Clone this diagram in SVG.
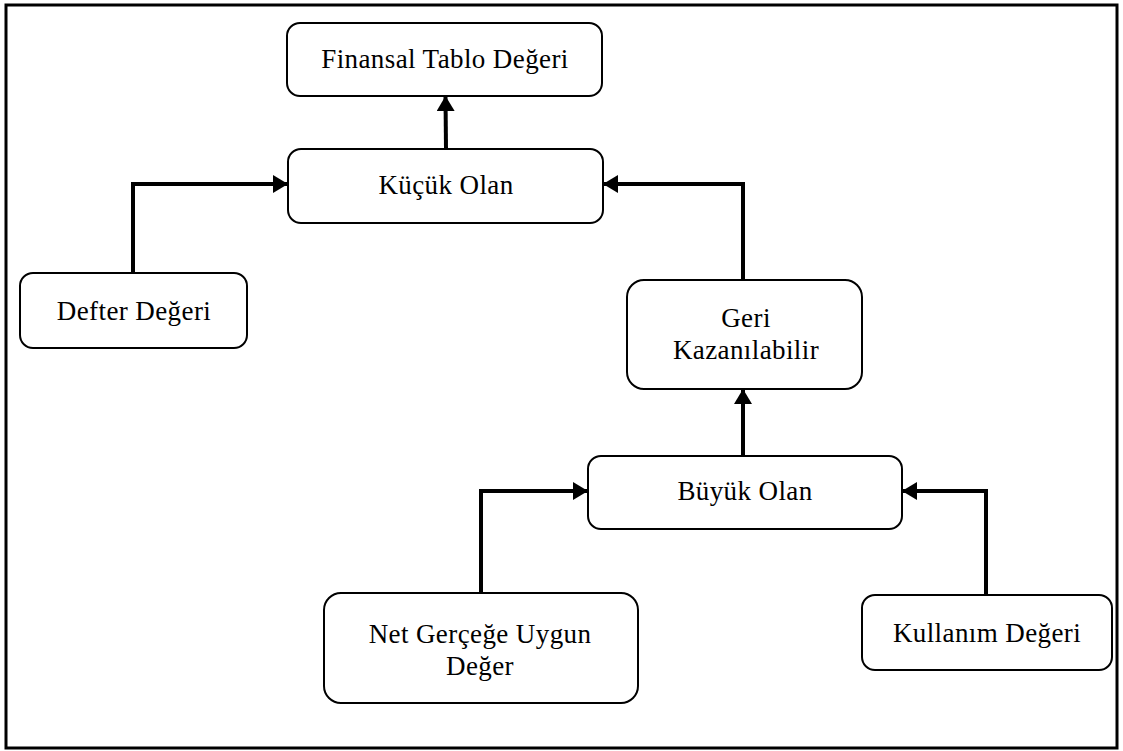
<svg xmlns="http://www.w3.org/2000/svg" width="1123" height="751" viewBox="0 0 1123 751">
<style>
.box{fill:#fff;stroke:#000;stroke-width:2}
.lbl{font-family:"Liberation Serif","Times New Roman",serif;font-size:27px;letter-spacing:0.4px;fill:#000;text-anchor:middle}
.conn{fill:none;stroke:#000;stroke-width:4}
</style>
<defs>
<marker id="ah" markerUnits="userSpaceOnUse" markerWidth="16" markerHeight="18" refX="14" refY="9" orient="auto">
<path d="M0,0 L15,9 L0,18 Z" fill="#000"/>
</marker>
</defs>
<rect x="6" y="5" width="1111" height="743" fill="#fff" stroke="#000" stroke-width="3"/>
<g id="connectors">
<path class="conn" d="M446,149 L445.5,97" marker-end="url(#ah)"/>
<path class="conn" d="M133,273 L133,184 L287,184" marker-end="url(#ah)"/>
<path class="conn" d="M743,280 L743,184 L604,184" marker-end="url(#ah)"/>
<path class="conn" d="M743,456 L743,390" marker-end="url(#ah)"/>
<path class="conn" d="M481,593 L481,491 L587,491" marker-end="url(#ah)"/>
<path class="conn" d="M986,595 L986,491 L903,491" marker-end="url(#ah)"/>
</g>
<g id="n-finansal">
<rect class="box" x="287" y="23" width="315" height="73" rx="13"/>
<text class="lbl" x="445" y="68">Finansal Tablo Değeri</text>
</g>
<g id="n-kucuk">
<rect class="box" x="288" y="149" width="315" height="74" rx="13"/>
<text class="lbl" x="446" y="194">Küçük Olan</text>
</g>
<g id="n-defter">
<rect class="box" x="20" y="273" width="227" height="75" rx="13"/>
<text class="lbl" x="134" y="320">Defter Değeri</text>
</g>
<g id="n-geri">
<rect class="box" x="627" y="280" width="235" height="109" rx="17"/>
<text class="lbl" x="746" y="327">Geri</text>
<text class="lbl" x="746" y="359">Kazanılabilir</text>
</g>
<g id="n-buyuk">
<rect class="box" x="588" y="456" width="314" height="73" rx="13"/>
<text class="lbl" x="745" y="500">Büyük Olan</text>
</g>
<g id="n-net">
<rect class="box" x="324" y="593" width="314" height="110" rx="17"/>
<text class="lbl" x="480" y="643">Net Gerçeğe Uygun</text>
<text class="lbl" x="480" y="675">Değer</text>
</g>
<g id="n-kullanim">
<rect class="box" x="862" y="595" width="250" height="75" rx="13"/>
<text class="lbl" x="987" y="642">Kullanım Değeri</text>
</g>
</svg>
